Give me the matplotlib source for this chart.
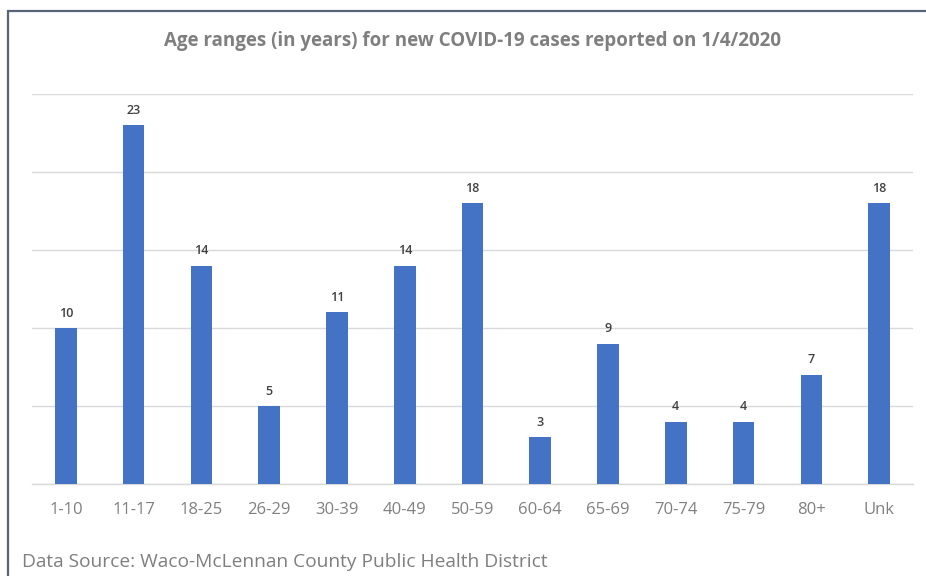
import matplotlib
matplotlib.use("Agg")
import matplotlib.pyplot as plt
from matplotlib.patches import Rectangle

categories = ["1-10", "11-17", "18-25", "26-29", "30-39", "40-49", "50-59",
              "60-64", "65-69", "70-74", "75-79", "80+", "Unk"]
values = [10, 23, 14, 5, 11, 14, 18, 3, 9, 4, 4, 7, 18]

title = "Age ranges (in years) for new COVID-19 cases reported on 1/4/2020"
source = "Data Source: Waco-McLennan County Public Health District"

plt.rcParams['font.family'] = ['Open Sans', 'DejaVu Sans']

fig = plt.figure(figsize=(9.26, 5.76), dpi=100)
W, H = 926, 576

# outer border
fig.patches.append(Rectangle((8 / W, -0.1), 1.2, 1 - 11 / H + 0.1,
                             transform=fig.transFigure, fill=False,
                             edgecolor="#5a6478", linewidth=1.6))

ax = fig.add_axes([32 / W, 1 - 484 / H, 881 / W, 390 / H])
x = list(range(len(categories)))
bars = ax.bar(x, values, width=0.32, color="#4472C4", zorder=3)
ax.set_xlim(-0.5, len(categories) - 0.5)
ax.set_ylim(0, 25)
ax.set_yticks([0, 5, 10, 15, 20, 25])
ax.yaxis.grid(True, color="#d9d9d9", linewidth=1.0, zorder=0)
ax.tick_params(axis="y", left=False, labelleft=False)
ax.tick_params(axis="x", length=0, pad=13, labelsize=12, labelcolor="#808080")
ax.set_xticks(x)
ax.set_xticklabels(categories)
for s in ["top", "right", "left"]:
    ax.spines[s].set_visible(False)
ax.spines["bottom"].set_color("#d9d9d9")
ax.spines["bottom"].set_linewidth(1.0)

for xi, v in zip(x, values):
    ax.annotate(str(v), (xi, v), xytext=(0, 6), textcoords="offset points",
                ha="center", va="bottom", fontsize=9, color="#404040",
                fontweight="semibold")

fig.text(472 / W, 1 - 41 / H, title, ha="center", va="center",
         fontsize=13.5, fontweight="bold", color="#7f7f7f")
fig.text(22 / W, 1 - 562 / H, source, ha="left", va="center",
         fontsize=13.8, color="#7f7f7f")

fig.savefig("out.png", dpi=100)
